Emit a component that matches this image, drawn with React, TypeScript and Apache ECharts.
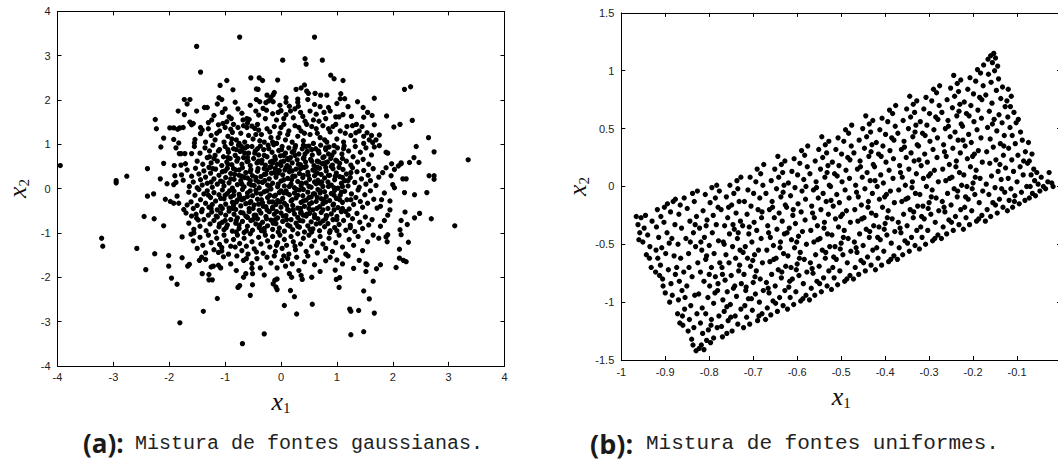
import React, { useEffect, useRef } from "react";
import * as echarts from "echarts";

// ---------- (a) Gaussian mixture: points, grouped by x2 band ----------
const gaussTop: number[][] = [
  [-0.74,3.42],[0.60,3.42],[-1.51,3.21],[0.03,2.90],[0.43,2.93],[0.45,2.81],[0.74,2.90],[-1.44,2.63],[0.89,2.56],[-0.54,2.50],[-0.39,2.50],
  [0.95,2.48],[1.11,2.44],[-0.33,2.44],[-0.06,2.45],[-0.97,2.44],[-1.09,2.33],[-0.86,2.23],[2.21,2.24],[2.32,2.30],[-0.44,2.25],[-0.41,2.24],
  [0.27,2.24],[0.36,2.27],[0.42,2.34],[0.46,2.20],[0.49,2.15],[-0.12,2.17],[-0.18,2.06],[-0.14,2.12],[-0.25,2.11],[0.61,2.15],[0.71,2.11],
  [0.82,2.11],[1.07,2.14],[1.06,2.03],[1.14,2.03],[1.67,2.04],[-1.73,2.01],[-1.63,2.01],[-1.11,2.05],[-1.06,2.01],[-0.44,2.01],[0.48,2.01],
  [0.09,2.05],[0.30,2.02],
];
const gaussBand15: number[][] = [
  [-1.68,1.91],[-0.38,1.96],[-0.14,1.96],[-0.22,1.98],[-0.27,1.94],[-0.32,1.81],[-0.26,1.77],[0.09,1.95],[-0.02,1.88],[0.30,1.95],[1.37,1.96],
  [1.47,1.83],[-1.37,1.83],[-1.32,1.83],[-1.14,1.91],[-1.00,1.80],[-0.77,1.80],[-1.84,1.75],[-1.51,1.75],[-1.73,1.67],[-0.15,1.69],[0.00,1.76],
  [0.09,1.67],[0.17,1.75],[0.25,1.80],[0.31,1.86],[0.22,1.60],[0.39,1.63],[0.77,1.72],[0.85,1.83],[0.88,1.75],[0.98,1.62],[1.04,1.62],[1.11,1.67],
  [1.26,1.63],[1.48,1.61],[1.63,1.65],[1.89,1.64],[2.35,1.54],[-2.25,1.56],[-1.63,1.50],[-1.57,1.47],[-1.30,1.49],[-0.93,1.62],[-0.89,1.58],
  [-0.61,1.58],[-0.57,1.56],[-0.97,1.51],[0.60,1.90],[0.70,1.85],[0.52,1.75],[-0.08,1.55],[0.05,1.58],[0.58,1.55],[0.68,1.52],[-0.45,1.75],
  [-0.40,1.66],[1.20,1.85],[-1.20,1.65],[-1.24,1.55],[-0.70,1.70],[0.43,1.52],[-0.05,1.72],[0.15,1.86],[0.35,1.72],[0.80,1.58],[-0.55,1.88],
  [-0.82,1.95],[1.00,1.92],[0.63,1.68],[-1.05,1.72],[-0.28,1.58],[1.55,1.72],[-0.68,1.55],
];
const gaussBand10: number[][] = [
  [-2.23,1.35],[-1.99,1.37],[-1.92,1.37],[-1.85,1.34],[-1.81,1.37],[-1.75,1.38],[-1.60,1.44],[-2.10,1.14],[-1.92,1.11],[-1.83,1.03],[-1.54,1.11],
  [-1.55,1.03],[-1.44,1.38],[-1.41,1.32],[-1.44,1.24],[-1.12,1.44],[-1.04,1.47],[-0.90,1.34],[-0.87,1.27],[-0.77,1.38],[-0.67,1.42],[-0.61,1.38],
  [-0.52,1.41],[-0.47,1.36],[-0.40,1.32],[2.13,1.45],[2.02,1.39],[1.67,1.44],[1.34,1.26],[1.48,1.18],[1.54,1.26],[1.58,1.10],[1.64,1.04],
  [1.70,1.10],[1.76,1.21],[2.64,1.15],
  [-1.25,1.20],[-1.18,1.10],[-1.10,1.30],[-1.02,1.05],[-0.95,1.18],[-0.85,1.45],[-0.80,1.10],[-0.72,1.25],[-0.65,1.05],[-0.58,1.20],[-0.50,1.12],
  [-0.42,1.45],[-0.35,1.22],[-0.30,1.05],[-0.25,1.35],[-0.18,1.15],[-0.12,1.40],[-0.08,1.02],[-0.02,1.25],[0.05,1.45],[0.08,1.10],[0.14,1.30],
  [0.20,1.05],[0.25,1.42],[0.30,1.18],[0.36,1.30],[0.40,1.08],[0.46,1.45],[0.52,1.22],[0.58,1.02],[0.63,1.35],[0.70,1.15],[0.75,1.42],[0.82,1.05],
  [0.88,1.28],[0.93,1.40],[1.00,1.12],[1.06,1.30],[1.12,1.05],[1.18,1.40],[1.25,1.20],[1.32,1.08],[1.40,1.30],[1.48,1.02],[1.62,1.20],[-1.35,1.05],
  [-0.60,1.48],[0.12,1.22],[0.65,1.25],[-0.20,1.28],[0.98,1.45],[1.35,1.45],[-0.88,1.12],[-0.38,1.08],[0.32,1.38],[0.78,1.10],[-0.05,1.15],
  [1.45,1.40],[-1.00,1.38],[-1.30,1.35],[-0.75,1.02],[-0.45,1.22],[0.00,1.38],[0.42,1.25],[0.85,1.35],[1.15,1.25],[-0.15,1.05],[0.55,1.40],
  [1.28,1.42],[-1.15,1.25],
];
const gaussBand05: number[][] = [
  [-2.15,0.94],[-1.88,0.92],[-1.82,0.79],[-1.79,0.79],[-1.72,0.79],[-1.60,0.79],[-2.10,0.57],[-1.91,0.52],[-1.79,0.53],[-1.71,0.56],
  [1.91,0.80],[2.42,0.95],[2.74,0.83],[2.38,0.70],[2.47,0.59],[2.30,0.59],[2.15,0.56],[2.10,0.51],[1.98,0.56],[2.15,0.58],[1.67,0.94],[1.76,0.97],
  [3.35,0.65],[1.88,0.82],
  [-1.55,0.95],[-1.50,0.62],[-1.45,0.80],[-1.40,0.55],[-1.36,0.92],[-1.32,0.70],[-1.28,0.85],[-1.25,0.58],[-1.22,0.98],[-1.18,0.75],[-1.14,0.62],
  [-1.10,0.88],[-1.06,0.52],[-1.03,0.72],[-1.00,0.95],[-0.97,0.60],[-0.94,0.82],[-0.91,0.68],[-0.88,0.54],[-0.85,0.90],[-0.82,0.75],[-0.79,0.62],
  [-0.76,0.98],[-0.73,0.84],[-0.70,0.55],[-0.67,0.70],[-0.64,0.92],[-0.61,0.61],[-0.58,0.80],[-0.55,0.52],[-0.52,0.95],[-0.49,0.68],[-0.46,0.85],
  [-0.43,0.58],[-0.40,0.76],[-0.37,0.96],[-0.34,0.64],[-0.31,0.88],[-0.28,0.53],[-0.25,0.72],[-0.22,0.90],[-0.19,0.60],[-0.16,0.82],[-0.13,0.99],
  [-0.10,0.66],[-0.07,0.55],[-0.04,0.86],[-0.01,0.74],[0.02,0.95],[0.05,0.62],[0.08,0.80],[0.11,0.52],[0.14,0.92],[0.17,0.70],[0.20,0.58],
  [0.23,0.85],[0.26,0.97],[0.29,0.65],[0.32,0.78],[0.35,0.54],[0.38,0.90],[0.41,0.70],[0.44,0.60],[0.47,0.84],[0.50,0.96],[0.53,0.66],[0.56,0.76],
  [0.59,0.52],[0.62,0.90],[0.65,0.62],[0.68,0.80],[0.71,0.98],[0.74,0.56],[0.77,0.72],[0.80,0.88],[0.83,0.60],[0.86,0.94],[0.89,0.68],[0.92,0.53],
  [0.95,0.82],[0.98,0.64],[1.01,0.92],[1.05,0.57],[1.09,0.78],[1.13,0.96],[1.17,0.62],[1.21,0.85],[1.25,0.53],[1.29,0.72],[1.33,0.95],[1.37,0.60],
  [1.42,0.82],[1.47,0.66],[1.52,0.92],[1.57,0.55],[1.62,0.76],[-0.95,0.70],[-0.60,0.70],[-0.30,0.75],[0.00,0.60],[0.25,0.75],[0.55,0.88],
  [0.85,0.78],[-1.20,0.68],[-0.80,0.88],[-0.15,0.58],[0.40,0.98],[1.10,0.68],[-0.42,0.90],[0.12,0.68],[0.68,0.60],[-0.70,0.88],[0.95,0.97],
];
const gaussBand00: number[][] = [
  [-3.95,0.52],[-2.76,0.28],[-2.39,0.45],[-2.95,0.18],[-2.95,0.13],[-2.16,0.22],[-2.04,0.11],[-1.90,0.29],[-1.78,0.31],[-1.75,0.19],[-1.92,0.09],
  [-1.88,0.14],[2.65,0.29],[2.74,0.29],[2.74,0.21],[2.18,0.22],[2.24,0.22],[2.00,0.09],[2.03,0.02],[1.88,0.47],[1.82,0.36],[1.97,0.29],[2.03,0.43],
  [-1.68,0.42],[-1.64,0.05],[-1.60,0.28],[-1.57,0.15],[-1.53,0.46],[-1.50,0.02],[-1.47,0.33],[-1.44,0.20],[-1.41,0.08],[-1.38,0.40],[-1.35,0.26],
  [-1.32,0.12],[-1.29,0.48],[-1.26,0.35],[-1.23,0.03],[-1.20,0.22],[-1.17,0.44],[-1.14,0.10],[-1.11,0.30],[-1.08,0.17],[-1.05,0.38],[-1.02,0.06],
  [-0.99,0.25],[-0.96,0.46],[-0.93,0.13],[-0.90,0.34],[-0.87,0.01],[-0.84,0.21],[-0.81,0.42],[-0.78,0.09],[-0.75,0.30],[-0.72,0.18],[-0.69,0.47],
  [-0.66,0.04],[-0.63,0.36],[-0.60,0.24],[-0.57,0.11],[-0.54,0.43],[-0.51,0.29],[-0.48,0.07],[-0.45,0.19],[-0.42,0.39],[-0.39,0.02],[-0.36,0.27],
  [-0.33,0.14],[-0.30,0.45],[-0.27,0.33],[-0.24,0.08],[-0.21,0.22],[-0.18,0.49],[-0.15,0.12],[-0.12,0.36],[-0.09,0.26],[-0.06,0.04],[-0.03,0.41],
  [0.00,0.17],[0.03,0.31],[0.06,0.06],[0.09,0.47],[0.12,0.23],[0.15,0.38],[0.18,0.10],[0.21,0.28],[0.24,0.02],[0.27,0.44],[0.30,0.16],[0.33,0.34],
  [0.36,0.07],[0.39,0.25],[0.42,0.48],[0.45,0.13],[0.48,0.37],[0.51,0.21],[0.54,0.03],[0.57,0.42],[0.60,0.29],[0.63,0.11],[0.66,0.19],[0.69,0.46],
  [0.72,0.32],[0.75,0.05],[0.78,0.24],[0.81,0.40],[0.84,0.15],[0.87,0.30],[0.90,0.08],[0.93,0.45],[0.96,0.20],[0.99,0.35],[1.02,0.01],[1.05,0.27],
  [1.08,0.12],[1.11,0.43],[1.14,0.18],[1.17,0.33],[1.20,0.06],[1.24,0.25],[1.28,0.47],[1.32,0.14],[1.36,0.38],[1.40,0.03],[1.44,0.22],[1.48,0.41],
  [1.52,0.10],[1.56,0.30],[1.60,0.18],[1.65,0.45],[1.70,0.07],[1.75,0.26],[-1.00,0.40],[-0.70,0.28],[-0.40,0.15],[-0.10,0.45],[0.20,0.40],
  [0.50,0.05],[0.80,0.48],[1.10,0.25],[-0.55,0.18],[-0.25,0.42],[0.05,0.20],[0.35,0.45],[0.65,0.35],[0.95,0.02],[-0.85,0.45],[-0.20,0.05],
  [0.40,0.30],[1.25,0.36],[-1.25,0.15],[0.70,0.12],
];
const gaussBandM05: number[][] = [
  [-2.39,-0.17],[-2.28,-0.12],[-2.07,-0.24],[-1.98,-0.29],[-1.92,-0.33],[-1.86,-0.17],[-1.83,-0.33],[-1.68,-0.37],[-1.74,-0.47],
  [2.61,-0.09],[2.39,-0.14],[2.21,-0.09],[1.95,-0.28],[1.95,-0.48],[1.80,-0.25],[1.78,-0.40],[1.85,-0.10],
  [-1.65,-0.08],[-1.61,-0.30],[-1.57,-0.45],[-1.54,-0.15],[-1.50,-0.38],[-1.47,-0.02],[-1.44,-0.25],[-1.41,-0.47],[-1.38,-0.12],[-1.35,-0.33],
  [-1.32,-0.05],[-1.29,-0.42],[-1.26,-0.20],[-1.23,-0.36],[-1.20,-0.09],[-1.17,-0.28],[-1.14,-0.48],[-1.11,-0.14],[-1.08,-0.40],[-1.05,-0.03],
  [-1.02,-0.23],[-0.99,-0.35],[-0.96,-0.11],[-0.93,-0.44],[-0.90,-0.19],[-0.87,-0.31],[-0.84,-0.06],[-0.81,-0.47],[-0.78,-0.26],[-0.75,-0.13],
  [-0.72,-0.39],[-0.69,-0.02],[-0.66,-0.22],[-0.63,-0.34],[-0.60,-0.10],[-0.57,-0.45],[-0.54,-0.29],[-0.51,-0.16],[-0.48,-0.37],[-0.45,-0.04],
  [-0.42,-0.24],[-0.39,-0.49],[-0.36,-0.12],[-0.33,-0.32],[-0.30,-0.07],[-0.27,-0.41],[-0.24,-0.20],[-0.21,-0.30],[-0.18,-0.01],[-0.15,-0.45],
  [-0.12,-0.17],[-0.09,-0.36],[-0.06,-0.27],[-0.03,-0.09],[0.00,-0.42],[0.03,-0.22],[0.06,-0.33],[0.09,-0.05],[0.12,-0.47],[0.15,-0.14],
  [0.18,-0.28],[0.21,-0.38],[0.24,-0.10],[0.27,-0.21],[0.30,-0.44],[0.33,-0.03],[0.36,-0.31],[0.39,-0.16],[0.42,-0.40],[0.45,-0.26],[0.48,-0.08],
  [0.51,-0.35],[0.54,-0.19],[0.57,-0.48],[0.60,-0.12],[0.63,-0.29],[0.66,-0.02],[0.69,-0.41],[0.72,-0.23],[0.75,-0.34],[0.78,-0.07],[0.81,-0.18],
  [0.84,-0.45],[0.87,-0.27],[0.90,-0.11],[0.93,-0.37],[0.96,-0.04],[0.99,-0.22],[1.02,-0.43],[1.06,-0.15],[1.10,-0.31],[1.14,-0.06],[1.18,-0.25],
  [1.22,-0.46],[1.26,-0.12],[1.30,-0.36],[1.34,-0.20],[1.38,-0.03],[1.42,-0.29],[1.46,-0.42],[1.50,-0.14],[1.55,-0.33],[1.60,-0.05],[1.66,-0.24],
  [1.72,-0.44],[-1.00,-0.15],[-0.70,-0.25],[-0.40,-0.35],[-0.10,-0.15],[0.20,-0.25],[0.50,-0.45],[0.80,-0.30],[1.10,-0.45],[-0.55,-0.05],
  [-0.25,-0.48],[0.05,-0.10],[0.35,-0.45],[0.65,-0.20],[0.95,-0.48],[-0.85,-0.38],[-0.15,-0.30],[0.40,-0.02],[1.25,-0.25],[-1.25,-0.45],[0.70,-0.10],
];
const gaussBandM10: number[][] = [
  [-2.45,-0.63],[-2.27,-0.68],[-2.10,-0.84],[-1.51,-0.67],[-1.48,-0.71],[2.39,-0.66],[2.48,-0.56],[2.26,-0.81],[2.22,-0.53],[2.15,-0.72],
  [2.13,-0.93],[2.69,-0.68],[3.11,-0.84],[1.91,-0.60],[1.85,-0.72],[1.78,-0.85],
  [-1.70,-0.55],[-1.65,-0.78],[-1.60,-0.62],[-1.56,-0.92],[-1.52,-0.58],[-1.45,-0.85],[-1.42,-0.52],[-1.38,-0.70],[-1.34,-0.95],[-1.30,-0.60],
  [-1.27,-0.80],[-1.24,-0.53],[-1.20,-0.72],[-1.17,-0.98],[-1.14,-0.64],[-1.11,-0.86],[-1.08,-0.55],[-1.05,-0.76],[-1.02,-0.93],[-0.99,-0.60],
  [-0.96,-0.82],[-0.93,-0.51],[-0.90,-0.70],[-0.87,-0.96],[-0.84,-0.58],[-0.81,-0.78],[-0.78,-0.66],[-0.75,-0.90],[-0.72,-0.54],[-0.69,-0.74],
  [-0.66,-0.99],[-0.63,-0.62],[-0.60,-0.85],[-0.57,-0.52],[-0.54,-0.72],[-0.51,-0.94],[-0.48,-0.60],[-0.45,-0.80],[-0.42,-0.68],[-0.39,-0.88],
  [-0.36,-0.55],[-0.33,-0.76],[-0.30,-0.97],[-0.27,-0.63],[-0.24,-0.84],[-0.21,-0.52],[-0.18,-0.71],[-0.15,-0.92],[-0.12,-0.58],[-0.09,-0.79],
  [-0.06,-0.66],[-0.03,-0.89],[0.00,-0.55],[0.03,-0.74],[0.06,-0.96],[0.09,-0.61],[0.12,-0.82],[0.15,-0.50],[0.18,-0.70],[0.21,-0.93],[0.24,-0.57],
  [0.27,-0.78],[0.30,-0.65],[0.33,-0.87],[0.36,-0.53],[0.39,-0.73],[0.42,-0.98],[0.45,-0.62],[0.48,-0.84],[0.51,-0.56],[0.54,-0.75],[0.57,-0.91],
  [0.60,-0.59],[0.63,-0.80],[0.66,-0.68],[0.69,-0.95],[0.72,-0.54],[0.75,-0.73],[0.78,-0.86],[0.81,-0.61],[0.84,-0.79],[0.87,-0.99],[0.90,-0.57],
  [0.93,-0.70],[0.96,-0.88],[1.00,-0.63],[1.04,-0.81],[1.08,-0.52],[1.12,-0.72],[1.16,-0.94],[1.20,-0.60],[1.24,-0.83],[1.28,-0.68],[1.32,-0.97],
  [1.36,-0.56],[1.41,-0.76],[1.46,-0.90],[1.51,-0.64],[1.57,-0.82],[1.63,-0.70],[-0.80,-0.98],[-0.35,-0.95],[0.10,-0.70],[0.55,-0.98],[1.00,-0.95],
  [-0.60,-0.65],[-0.05,-0.98],[0.40,-0.60],[-1.00,-0.72],[0.80,-0.68],
];
const gaussBandM15: number[][] = [
  [-3.21,-1.12],[-3.19,-1.30],[-2.58,-1.35],[-2.26,-1.47],[-1.77,-1.09],[-1.61,-1.03],[-1.56,-1.00],[-1.57,-1.18],[-1.12,-1.44],[-1.06,-1.41],
  [-0.82,-1.32],[-0.85,-1.15],[-1.06,-1.33],[-0.59,-1.48],[-0.44,-1.43],[2.12,-1.37],[2.28,-1.21],[2.15,-1.04],[1.91,-1.04],[1.88,-1.09],
  [1.90,-1.20],[1.75,-1.12],
  [-1.50,-1.35],[-1.45,-1.10],[-1.40,-1.28],[-1.35,-1.45],[-1.30,-1.05],[-1.25,-1.22],[-1.20,-1.38],[-1.15,-1.12],[-1.10,-1.26],[-1.02,-1.05],
  [-0.98,-1.18],[-0.94,-1.48],[-0.90,-1.30],[-0.78,-1.05],[-0.74,-1.24],[-0.70,-1.40],[-0.66,-1.12],[-0.62,-1.30],[-0.55,-1.02],[-0.52,-1.20],
  [-0.48,-1.36],[-0.40,-1.10],[-0.36,-1.25],[-0.32,-1.46],[-0.28,-1.05],[-0.24,-1.18],[-0.20,-1.32],[-0.15,-1.08],[-0.10,-1.42],[-0.06,-1.22],
  [-0.02,-1.05],[0.02,-1.35],[0.06,-1.15],[0.10,-1.28],[0.14,-1.48],[0.18,-1.08],[0.22,-1.20],[0.26,-1.38],[0.30,-1.02],[0.35,-1.25],[0.40,-1.12],
  [0.45,-1.42],[0.50,-1.05],[0.55,-1.30],[0.60,-1.18],[0.65,-1.45],[0.70,-1.08],[0.75,-1.25],[0.80,-1.35],[0.86,-1.12],[0.92,-1.42],[0.98,-1.22],
  [1.04,-1.05],[1.10,-1.32],[1.16,-1.48],[1.22,-1.15],[1.30,-1.28],[1.38,-1.08],[1.46,-1.40],[1.55,-1.20],[1.65,-1.05],[-0.08,-1.28],[0.25,-1.30],
];
const gaussBottom: number[][] = [
  [-2.42,-1.83],[-2.01,-1.51],[-2.01,-1.75],[-1.77,-1.56],[-1.67,-1.75],[-1.64,-1.71],[-1.46,-1.62],[-1.42,-1.55],[-1.41,-1.92],[-1.29,-1.94],
  [-1.25,-1.77],[-1.21,-1.75],[-1.12,-1.73],[-1.08,-1.79],[-1.03,-1.54],[-0.79,-1.52],[-0.67,-1.62],[-0.62,-1.58],[-0.51,-1.92],[-0.52,-1.80],
  [-0.52,-1.69],[-0.43,-1.58],[-0.37,-1.79],[-0.07,-1.79],[-0.63,-1.92],[0.80,-1.63],[0.70,-1.87],[0.36,-1.96],[1.00,-1.61],[0.97,-1.84],
  [1.52,-1.87],[1.52,-1.70],[1.54,-1.72],[1.78,-1.72],[1.71,-1.81],[2.06,-1.78],[2.12,-1.57],[2.19,-1.62],[2.24,-1.65],
  [-0.25,-1.55],[-0.18,-1.68],[-0.12,-1.52],[0.02,-1.62],[0.08,-1.75],[0.12,-1.58],[0.20,-1.70],[0.28,-1.55],[0.32,-1.85],[0.42,-1.65],
  [0.48,-1.52],[0.60,-1.72],[0.88,-1.55],[1.10,-1.70],[1.20,-1.52],[1.30,-1.80],[1.40,-1.62],[-0.90,-1.70],[-0.80,-1.85],[-0.30,-1.95],
  [0.15,-1.92],[-1.35,-1.60],[0.05,-1.52],
  [-1.96,-2.02],[-1.86,-2.16],[-1.29,-2.06],[-1.23,-2.06],[-0.77,-2.23],[-0.74,-2.19],[-0.67,-2.00],[-0.55,-2.41],[-0.51,-2.17],[-0.11,-2.07],
  [-0.14,-2.15],[-0.09,-2.22],[-0.07,-2.28],[-0.07,-2.04],[0.19,-2.00],[0.17,-2.30],[0.24,-2.44],[0.38,-2.05],[0.55,-2.00],[1.04,-2.23],
  [0.99,-2.05],[1.05,-2.01],[1.65,-2.09],[1.58,-2.49],[1.48,-2.31],[-1.14,-2.48],
  [-1.81,-3.03],[-1.39,-2.77],[-0.69,-3.50],[-0.30,-3.28],[0.06,-2.64],[0.28,-2.83],[0.56,-2.61],[1.23,-2.72],[1.25,-3.30],
  [1.25,-2.77],[1.39,-2.75],[1.48,-3.23],[1.67,-2.81],
];
const gaussCore: number[][] = [
  [-1.22,0.45],[-1.16,-0.62],[-1.12,0.85],[-1.08,-0.22],[-1.04,0.15],[-0.98,-0.88],[-0.95,0.55],[-0.92,-0.05],[-0.89,1.02],[-0.86,-0.45],
  [-0.83,0.32],[-0.80,-0.72],[-0.77,0.68],[-0.74,-0.18],[-0.71,0.95],[-0.68,-0.55],[-0.65,0.25],[-0.62,-0.95],[-0.59,0.62],[-0.56,-0.32],
  [-0.53,0.08],[-0.50,-0.70],[-0.47,0.80],[-0.44,-0.10],[-0.41,0.45],[-0.38,-0.82],[-0.35,0.58],[-0.32,-0.40],[-0.29,0.18],[-0.26,-0.68],
  [-0.23,0.98],[-0.20,-0.15],[-0.17,0.35],[-0.14,-0.78],[-0.11,0.72],[-0.08,-0.52],[-0.05,0.10],[-0.02,-0.30],[0.01,0.88],[0.04,-0.62],
  [0.07,0.42],[0.10,-0.10],[0.13,0.65],[0.16,-0.85],[0.19,0.20],[0.22,-0.48],[0.25,0.92],[0.28,-0.02],[0.31,0.55],[0.34,-0.72],[0.37,0.12],
  [0.40,-0.28],[0.43,0.78],[0.46,-0.58],[0.49,0.30],[0.52,-0.92],[0.55,0.62],[0.58,-0.12],[0.61,0.40],[0.64,-0.45],[0.67,0.85],[0.70,-0.78],
  [0.73,0.15],[0.76,-0.25],[0.79,0.58],[0.82,-0.62],[0.85,0.05],[0.88,-0.95],[0.91,0.75],[0.94,-0.35],[0.97,0.28],[1.00,-0.70],[1.04,0.48],
  [1.08,-0.08],[1.12,0.90],[1.16,-0.52],[1.20,0.18],[1.24,-0.88],[-1.30,-0.15],[-1.28,0.72],[-0.90,0.22],[-0.60,-0.18],[-0.30,0.32],
  [0.00,-0.05],[0.30,-0.15],[0.60,0.15],[0.90,0.50],[-0.75,0.42],[-0.45,-0.60],[-0.15,0.62],[0.15,0.05],[0.45,0.50],[0.75,-0.48],[1.05,-0.25],
  [-1.05,-0.45],[-0.65,0.80],[-0.35,-0.25],[-0.05,0.35],[0.25,0.28],[0.55,-0.32],[0.85,0.30],[-0.85,-0.15],[-0.55,0.38],[-0.25,-0.05],
  [0.05,0.75],[0.35,-0.55],[0.65,0.48],[0.95,-0.15],[-1.10,-0.80],[-0.70,0.10],[-0.40,0.62],[-0.10,-0.70],[0.20,0.82],[0.50,-0.20],
  [0.80,0.92],[1.10,0.05],[-0.95,0.88],[-0.50,-0.45],[-0.20,0.48],[0.10,-0.38],[0.40,0.68],[0.70,-0.05],[1.00,0.62],[-0.80,-0.30],
  [-0.30,-0.90],[0.30,-0.85],[0.60,-0.65],[-0.60,0.95],[0.00,0.52],[-0.15,-0.42],[0.15,0.48],[0.45,0.95],[-0.45,0.25],[0.75,0.70],[-0.75,-0.82],
];

// ---------- (b) Uniform mixture: points, grouped by x1 strip ----------
const unifLeftTip: number[][] = [
  [-0.966,-0.26],[-0.962,-0.33],[-0.960,-0.46],[-0.951,-0.48],[-0.943,-0.59],[-0.936,-0.62],[-0.932,-0.70],[-0.955,-0.27],[-0.948,-0.36],
  [-0.940,-0.42],[-0.930,-0.30],[-0.958,-0.40],[-0.935,-0.52],[-0.945,-0.25],
  [-0.922,-0.74],[-0.913,-0.77],[-0.905,-0.86],[-0.900,-0.92],[-0.918,-0.20],[-0.910,-0.26],[-0.895,-0.15],[-0.920,-0.35],[-0.903,-0.31],
  [-0.888,-0.22],[-0.915,-0.44],[-0.896,-0.40],[-0.882,-0.13],[-0.908,-0.53],[-0.891,-0.49],[-0.878,-0.33],[-0.917,-0.62],[-0.899,-0.58],
  [-0.885,-0.45],[-0.911,-0.68],[-0.893,-0.72],[-0.880,-0.60],[-0.906,-0.80],[-0.887,-0.84],[-0.877,-0.76],[-0.921,-0.55],[-0.902,-0.18],
  [-0.884,-0.94],[-0.890,-1.00],[-0.877,-0.11],
  [-0.872,-1.10],[-0.867,-1.18],[-0.860,-1.20],[-0.848,-1.25],[-0.840,-1.32],[-0.837,-1.37],[-0.830,-1.42],[-0.845,-1.15],[-0.856,-1.06],
  [-0.870,-0.98],[-0.835,-1.22],[-0.862,-0.90],[-0.842,-1.03],[-0.828,-1.10],[-0.868,-0.82],[-0.851,-0.86],[-0.833,-0.94],[-0.874,-0.70],
  [-0.858,-0.74],[-0.839,-0.78],[-0.826,-0.66],[-0.865,-0.62],[-0.847,-0.58],[-0.831,-0.52],[-0.871,-0.50],[-0.853,-0.45],[-0.836,-0.40],
  [-0.863,-0.36],[-0.844,-0.30],[-0.829,-0.26],[-0.869,-0.24],[-0.850,-0.19],[-0.834,-0.13],[-0.857,-0.10],[-0.838,-0.06],[-0.827,-0.04],
  [-0.866,-0.16],[-0.846,-0.70],[-0.832,-0.33],[-0.861,-1.12],[-0.843,-0.48],[-0.855,-0.96],
];
const unifStrip080: number[][] = [
  [-0.823,-1.40],[-0.818,-1.37],[-0.812,-1.41],[-0.806,-1.33],[-0.797,-1.35],[-0.790,-1.31],[-0.815,-1.27],[-0.802,-1.24],[-0.782,-1.22],
  [-0.820,-1.18],[-0.795,-1.15],[-0.808,-1.10],[-0.778,-1.12],[-0.816,-1.05],[-0.790,-1.01],[-0.803,-0.96],[-0.824,-0.93],[-0.781,-0.90],
  [-0.799,-0.86],[-0.812,-0.82],[-0.786,-0.78],[-0.820,-0.74],[-0.795,-0.70],[-0.776,-0.66],[-0.808,-0.63],[-0.789,-0.58],[-0.817,-0.55],
  [-0.800,-0.51],[-0.779,-0.47],[-0.811,-0.44],[-0.793,-0.40],[-0.822,-0.36],[-0.784,-0.33],[-0.805,-0.29],[-0.791,-0.25],[-0.814,-0.21],
  [-0.780,-0.18],[-0.798,-0.14],[-0.786,-0.10],[-0.809,-0.07],[-0.777,-0.04],[-0.794,-0.01],[-0.783,0.01],[-0.806,-0.60],[-0.787,-0.92],
  [-0.819,-0.48],[-0.796,-1.20],[-0.807,-0.34],[-0.780,-0.84],[-0.800,-0.76],
];
const unifStrip075: number[][] = [
  [-0.770,-1.30],[-0.760,-1.27],[-0.748,-1.25],[-0.772,-1.21],[-0.735,-1.19],[-0.757,-1.16],[-0.741,-1.12],[-0.766,-1.08],[-0.728,-1.06],
  [-0.752,-1.02],[-0.769,-0.98],[-0.738,-0.95],[-0.759,-0.91],[-0.745,-0.88],[-0.727,-0.84],[-0.764,-0.81],[-0.750,-0.77],[-0.733,-0.73],
  [-0.771,-0.70],[-0.755,-0.66],[-0.740,-0.62],[-0.762,-0.59],[-0.730,-0.55],[-0.747,-0.52],[-0.768,-0.48],[-0.736,-0.45],[-0.754,-0.41],
  [-0.743,-0.37],[-0.765,-0.34],[-0.729,-0.30],[-0.758,-0.27],[-0.739,-0.23],[-0.773,-0.20],[-0.749,-0.16],[-0.732,-0.13],[-0.761,-0.09],
  [-0.744,-0.06],[-0.735,-0.02],[-0.753,0.01],[-0.737,0.05],[-0.728,0.08],[-0.766,-0.50],[-0.742,-0.86],[-0.756,-0.18],[-0.731,-0.68],
  [-0.760,-1.04],[-0.746,-0.33],[-0.770,-0.76],[-0.734,-0.40],[-0.751,-1.13],
];
const unifStrip070: number[][] = [
  [-0.722,-1.22],[-0.708,-1.19],[-0.690,-1.16],[-0.715,-1.13],[-0.680,-1.10],[-0.702,-1.07],[-0.719,-1.03],[-0.686,-1.00],[-0.711,-0.97],
  [-0.695,-0.93],[-0.677,-0.90],[-0.716,-0.87],[-0.700,-0.83],[-0.684,-0.80],[-0.721,-0.76],[-0.693,-0.73],[-0.706,-0.69],[-0.679,-0.66],
  [-0.713,-0.62],[-0.697,-0.59],[-0.688,-0.55],[-0.718,-0.52],[-0.703,-0.48],[-0.682,-0.45],[-0.710,-0.41],[-0.692,-0.38],[-0.724,-0.34],
  [-0.698,-0.31],[-0.681,-0.27],[-0.714,-0.24],[-0.689,-0.20],[-0.705,-0.17],[-0.720,-0.13],[-0.685,-0.10],[-0.699,-0.06],[-0.712,-0.03],
  [-0.678,0.01],[-0.694,0.04],[-0.707,0.08],[-0.683,0.11],[-0.691,0.15],[-0.676,0.19],[-0.717,-0.90],[-0.701,-0.64],[-0.687,-1.12],
  [-0.709,-0.35],[-0.696,-0.78],[-0.723,-0.57],[-0.680,-0.22],[-0.704,-0.97],
];
const unifStrip065: number[][] = [
  [-0.672,-1.15],[-0.660,-1.11],[-0.645,-1.08],[-0.668,-1.05],[-0.632,-1.03],[-0.655,-0.99],[-0.640,-0.96],[-0.664,-0.92],[-0.628,-0.90],
  [-0.650,-0.86],[-0.670,-0.83],[-0.636,-0.79],[-0.658,-0.76],[-0.643,-0.72],[-0.626,-0.69],[-0.662,-0.65],[-0.648,-0.62],[-0.631,-0.58],
  [-0.669,-0.55],[-0.654,-0.51],[-0.638,-0.48],[-0.661,-0.44],[-0.629,-0.41],[-0.646,-0.37],[-0.667,-0.34],[-0.634,-0.30],[-0.652,-0.27],
  [-0.641,-0.23],[-0.663,-0.20],[-0.627,-0.16],[-0.657,-0.13],[-0.637,-0.09],[-0.671,-0.06],[-0.647,-0.02],[-0.630,0.01],[-0.659,0.05],
  [-0.642,0.08],[-0.633,0.12],[-0.651,0.15],[-0.636,0.19],[-0.628,0.22],[-0.644,0.26],[-0.666,-0.88],[-0.639,-0.53],[-0.656,-0.18],
  [-0.635,-0.74],[-0.649,-1.01],[-0.665,-0.40],[-0.632,-0.05],[-0.653,-0.63],
];
const unifStrip060: number[][] = [
  [-0.622,-1.06],[-0.608,-1.02],[-0.592,-0.99],[-0.616,-0.96],[-0.580,-0.94],[-0.603,-0.91],[-0.619,-0.87],[-0.586,-0.84],[-0.611,-0.80],
  [-0.596,-0.77],[-0.578,-0.74],[-0.614,-0.70],[-0.600,-0.67],[-0.584,-0.63],[-0.621,-0.60],[-0.593,-0.57],[-0.606,-0.53],[-0.579,-0.50],
  [-0.613,-0.46],[-0.597,-0.43],[-0.588,-0.39],[-0.618,-0.36],[-0.604,-0.32],[-0.582,-0.29],[-0.610,-0.25],[-0.591,-0.22],[-0.624,-0.18],
  [-0.598,-0.15],[-0.581,-0.11],[-0.615,-0.08],[-0.589,-0.04],[-0.605,-0.01],[-0.620,0.03],[-0.585,0.06],[-0.599,0.10],[-0.612,0.13],
  [-0.577,0.17],[-0.594,0.20],[-0.607,0.24],[-0.583,0.27],[-0.590,0.31],[-0.576,0.35],[-0.617,-0.82],[-0.601,-0.48],[-0.587,-0.97],
  [-0.609,-0.20],[-0.595,-0.62],[-0.623,-0.40],[-0.580,0.00],[-0.602,-0.72],
];
const unifStrip055: number[][] = [
  [-0.572,-0.98],[-0.560,-0.94],[-0.545,-0.91],[-0.568,-0.88],[-0.532,-0.86],[-0.555,-0.82],[-0.540,-0.79],[-0.564,-0.75],[-0.528,-0.73],
  [-0.550,-0.69],[-0.570,-0.66],[-0.536,-0.62],[-0.558,-0.59],[-0.543,-0.55],[-0.526,-0.52],[-0.562,-0.48],[-0.548,-0.45],[-0.531,-0.41],
  [-0.569,-0.38],[-0.554,-0.34],[-0.538,-0.31],[-0.561,-0.27],[-0.529,-0.24],[-0.546,-0.20],[-0.567,-0.17],[-0.534,-0.13],[-0.552,-0.10],
  [-0.541,-0.06],[-0.563,-0.03],[-0.527,0.01],[-0.557,0.04],[-0.537,0.08],[-0.571,0.11],[-0.547,0.15],[-0.530,0.18],[-0.559,0.22],
  [-0.542,0.25],[-0.533,0.29],[-0.551,0.32],[-0.536,0.36],[-0.528,0.39],[-0.544,0.43],[-0.566,-0.71],[-0.539,-0.36],[-0.556,-0.01],
  [-0.535,-0.57],[-0.549,-0.84],[-0.565,-0.23],[-0.532,0.12],[-0.553,-0.46],
];
const unifStrip050: number[][] = [
  [-0.522,-0.89],[-0.508,-0.85],[-0.492,-0.82],[-0.516,-0.79],[-0.480,-0.77],[-0.503,-0.73],[-0.519,-0.70],[-0.486,-0.66],[-0.511,-0.63],
  [-0.496,-0.59],[-0.478,-0.56],[-0.514,-0.52],[-0.500,-0.49],[-0.484,-0.45],[-0.521,-0.42],[-0.493,-0.38],[-0.506,-0.35],[-0.479,-0.31],
  [-0.513,-0.28],[-0.497,-0.24],[-0.488,-0.21],[-0.518,-0.17],[-0.504,-0.14],[-0.482,-0.10],[-0.510,-0.07],[-0.491,-0.03],[-0.524,0.00],
  [-0.498,0.04],[-0.481,0.07],[-0.515,0.11],[-0.489,0.14],[-0.505,0.18],[-0.520,0.21],[-0.485,0.25],[-0.499,0.28],[-0.512,0.32],
  [-0.477,0.35],[-0.494,0.39],[-0.507,0.42],[-0.483,0.46],[-0.490,0.49],[-0.476,0.53],[-0.517,-0.61],[-0.501,-0.26],[-0.487,-0.80],
  [-0.509,0.09],[-0.495,-0.44],[-0.523,-0.12],[-0.480,0.23],[-0.502,-0.54],
];
const unifStrip045: number[][] = [
  [-0.472,-0.80],[-0.460,-0.76],[-0.445,-0.73],[-0.468,-0.70],[-0.432,-0.68],[-0.455,-0.64],[-0.440,-0.61],[-0.464,-0.57],[-0.428,-0.55],
  [-0.450,-0.51],[-0.470,-0.48],[-0.436,-0.44],[-0.458,-0.41],[-0.443,-0.37],[-0.426,-0.34],[-0.462,-0.30],[-0.448,-0.27],[-0.431,-0.23],
  [-0.469,-0.20],[-0.454,-0.16],[-0.438,-0.13],[-0.461,-0.09],[-0.429,-0.06],[-0.446,-0.02],[-0.467,0.01],[-0.434,0.05],[-0.452,0.08],
  [-0.441,0.12],[-0.463,0.15],[-0.427,0.19],[-0.457,0.22],[-0.437,0.26],[-0.471,0.29],[-0.447,0.33],[-0.430,0.36],[-0.459,0.40],
  [-0.442,0.43],[-0.433,0.47],[-0.451,0.50],[-0.436,0.54],[-0.428,0.57],[-0.444,0.61],[-0.466,-0.53],[-0.439,-0.18],[-0.456,0.17],
  [-0.435,-0.39],[-0.449,-0.66],[-0.465,-0.05],[-0.432,0.30],[-0.453,-0.28],
];
const unifStrip040: number[][] = [
  [-0.422,-0.72],[-0.408,-0.68],[-0.392,-0.65],[-0.416,-0.62],[-0.380,-0.60],[-0.403,-0.56],[-0.419,-0.53],[-0.386,-0.49],[-0.411,-0.46],
  [-0.396,-0.42],[-0.378,-0.39],[-0.414,-0.35],[-0.400,-0.32],[-0.384,-0.28],[-0.421,-0.25],[-0.393,-0.21],[-0.406,-0.18],[-0.379,-0.14],
  [-0.413,-0.11],[-0.397,-0.07],[-0.388,-0.04],[-0.418,0.00],[-0.404,0.03],[-0.382,0.07],[-0.410,0.10],[-0.391,0.14],[-0.424,0.17],
  [-0.398,0.21],[-0.381,0.24],[-0.415,0.28],[-0.389,0.31],[-0.405,0.35],[-0.420,0.38],[-0.385,0.42],[-0.399,0.45],[-0.412,0.49],
  [-0.377,0.52],[-0.394,0.56],[-0.407,0.59],[-0.383,0.63],[-0.390,0.66],[-0.376,0.70],[-0.417,-0.44],[-0.401,-0.09],[-0.387,-0.63],
  [-0.409,0.26],[-0.395,-0.27],[-0.423,0.05],[-0.380,0.40],[-0.402,-0.37],
];
const unifStrip035: number[][] = [
  [-0.372,-0.63],[-0.360,-0.59],[-0.345,-0.56],[-0.368,-0.53],[-0.332,-0.51],[-0.355,-0.47],[-0.340,-0.44],[-0.364,-0.40],[-0.328,-0.38],
  [-0.350,-0.34],[-0.370,-0.31],[-0.336,-0.27],[-0.358,-0.24],[-0.343,-0.20],[-0.326,-0.17],[-0.362,-0.13],[-0.348,-0.10],[-0.331,-0.06],
  [-0.369,-0.03],[-0.354,0.01],[-0.338,0.04],[-0.361,0.08],[-0.329,0.11],[-0.346,0.15],[-0.367,0.18],[-0.334,0.22],[-0.352,0.25],
  [-0.341,0.29],[-0.363,0.32],[-0.327,0.36],[-0.357,0.39],[-0.337,0.43],[-0.371,0.46],[-0.347,0.50],[-0.330,0.53],[-0.359,0.57],
  [-0.342,0.60],[-0.333,0.64],[-0.351,0.67],[-0.336,0.71],[-0.328,0.74],[-0.344,0.78],[-0.366,-0.36],[-0.339,-0.01],[-0.356,0.34],
  [-0.335,-0.22],[-0.349,-0.49],[-0.365,0.12],[-0.332,0.47],[-0.353,-0.11],
];
const unifStrip030: number[][] = [
  [-0.322,-0.54],[-0.308,-0.50],[-0.292,-0.47],[-0.316,-0.44],[-0.280,-0.42],[-0.303,-0.38],[-0.319,-0.35],[-0.286,-0.31],[-0.311,-0.28],
  [-0.296,-0.24],[-0.278,-0.21],[-0.314,-0.17],[-0.300,-0.14],[-0.284,-0.10],[-0.321,-0.07],[-0.293,-0.03],[-0.306,0.00],[-0.279,0.04],
  [-0.313,0.07],[-0.297,0.11],[-0.288,0.14],[-0.318,0.18],[-0.304,0.21],[-0.282,0.25],[-0.310,0.28],[-0.291,0.32],[-0.324,0.35],
  [-0.298,0.39],[-0.281,0.42],[-0.315,0.46],[-0.289,0.49],[-0.305,0.53],[-0.320,0.56],[-0.285,0.60],[-0.299,0.63],[-0.312,0.67],
  [-0.277,0.70],[-0.294,0.74],[-0.307,0.77],[-0.283,0.81],[-0.290,0.84],[-0.276,0.87],[-0.317,-0.26],[-0.301,0.09],[-0.287,-0.45],
  [-0.309,0.44],[-0.295,-0.09],[-0.323,0.23],[-0.280,0.58],[-0.302,-0.19],
];
const unifStrip025: number[][] = [
  [-0.272,-0.45],[-0.260,-0.41],[-0.245,-0.38],[-0.268,-0.35],[-0.232,-0.33],[-0.255,-0.29],[-0.240,-0.26],[-0.264,-0.22],[-0.228,-0.20],
  [-0.250,-0.16],[-0.270,-0.13],[-0.236,-0.09],[-0.258,-0.06],[-0.243,-0.02],[-0.226,0.01],[-0.262,0.05],[-0.248,0.08],[-0.231,0.12],
  [-0.269,0.15],[-0.254,0.19],[-0.238,0.22],[-0.261,0.26],[-0.229,0.29],[-0.246,0.33],[-0.267,0.36],[-0.234,0.40],[-0.252,0.43],
  [-0.241,0.47],[-0.263,0.50],[-0.227,0.54],[-0.257,0.57],[-0.237,0.61],[-0.271,0.64],[-0.247,0.68],[-0.230,0.71],[-0.259,0.75],
  [-0.242,0.78],[-0.233,0.82],[-0.251,0.85],[-0.236,0.89],[-0.228,0.92],[-0.244,0.96],[-0.266,-0.18],[-0.239,0.17],[-0.256,0.52],
  [-0.235,-0.04],[-0.249,-0.31],[-0.265,0.30],[-0.232,0.65],[-0.253,0.07],
];
const unifStrip020: number[][] = [
  [-0.222,-0.37],[-0.208,-0.33],[-0.192,-0.30],[-0.216,-0.27],[-0.180,-0.25],[-0.203,-0.21],[-0.219,-0.18],[-0.186,-0.14],[-0.211,-0.11],
  [-0.196,-0.07],[-0.178,-0.04],[-0.214,0.00],[-0.200,0.03],[-0.184,0.07],[-0.221,0.10],[-0.193,0.14],[-0.206,0.17],[-0.179,0.21],
  [-0.213,0.24],[-0.197,0.28],[-0.188,0.31],[-0.218,0.35],[-0.204,0.38],[-0.182,0.42],[-0.210,0.45],[-0.191,0.49],[-0.224,0.52],
  [-0.198,0.56],[-0.181,0.59],[-0.215,0.63],[-0.189,0.66],[-0.205,0.70],[-0.220,0.73],[-0.185,0.77],[-0.199,0.80],[-0.212,0.84],
  [-0.177,0.87],[-0.194,0.91],[-0.207,0.94],[-0.183,0.98],[-0.190,1.01],[-0.176,1.05],[-0.217,-0.09],[-0.201,0.26],[-0.187,-0.28],
  [-0.209,0.61],[-0.195,0.08],[-0.223,0.40],[-0.180,0.75],[-0.202,-0.02],
];
const unifStrip015: number[][] = [
  [-0.172,-0.30],[-0.160,-0.26],[-0.145,-0.23],[-0.168,-0.20],[-0.132,-0.18],[-0.155,-0.14],[-0.140,-0.11],[-0.164,-0.07],[-0.128,-0.05],
  [-0.150,-0.01],[-0.170,0.02],[-0.136,0.06],[-0.158,0.09],[-0.143,0.13],[-0.126,0.16],[-0.162,0.20],[-0.148,0.23],[-0.131,0.27],
  [-0.169,0.30],[-0.154,0.34],[-0.138,0.37],[-0.161,0.41],[-0.129,0.44],[-0.146,0.48],[-0.167,0.51],[-0.134,0.55],[-0.152,0.58],
  [-0.141,0.62],[-0.163,0.65],[-0.127,0.69],[-0.157,0.72],[-0.137,0.76],[-0.171,0.79],[-0.147,0.83],[-0.133,0.86],[-0.159,0.90],
  [-0.142,0.93],[-0.165,0.97],[-0.151,1.00],[-0.144,1.04],[-0.156,1.07],[-0.149,1.11],[-0.160,1.13],[-0.153,1.15],[-0.166,1.10],
  [-0.139,0.19],[-0.156,0.54],[-0.135,-0.02],[-0.149,-0.16],[-0.130,0.35],
];
const unifRightTip: number[][] = [
  [-0.122,-0.21],[-0.110,-0.18],[-0.095,-0.15],[-0.118,-0.12],[-0.082,-0.12],[-0.105,-0.08],[-0.090,-0.05],[-0.114,-0.02],[-0.078,0.00],
  [-0.100,0.04],[-0.120,0.07],[-0.086,0.10],[-0.108,0.13],[-0.093,0.17],[-0.076,0.20],[-0.112,0.23],[-0.098,0.27],[-0.081,0.30],
  [-0.119,0.33],[-0.104,0.37],[-0.088,0.40],[-0.111,0.44],[-0.092,0.47],[-0.116,0.51],[-0.102,0.55],[-0.121,0.60],[-0.107,0.64],
  [-0.115,0.69],[-0.123,0.74],[-0.113,0.78],[-0.120,0.84],[-0.097,0.58],[-0.085,0.22],[-0.106,-0.13],
  [-0.072,-0.10],[-0.065,-0.06],[-0.058,-0.08],[-0.048,-0.04],[-0.070,0.00],[-0.060,0.05],[-0.052,0.02],[-0.068,0.10],[-0.062,0.15],
  [-0.055,0.12],[-0.072,0.22],[-0.066,0.28],[-0.074,0.38],[-0.040,0.00],[-0.035,-0.02],[-0.045,0.08],[-0.030,0.04],
  [-0.027,0.12],[-0.021,0.03],[-0.018,0.00],
];

const gaussianPoints = [
  ...gaussTop, ...gaussBand15, ...gaussBand10, ...gaussBand05, ...gaussBand00,
  ...gaussBandM05, ...gaussBandM10, ...gaussBandM15, ...gaussBottom, ...gaussCore,
];
const uniformPoints = [
  ...unifLeftTip, ...unifStrip080, ...unifStrip075, ...unifStrip070, ...unifStrip065, ...unifStrip060,
  ...unifStrip055, ...unifStrip050, ...unifStrip045, ...unifStrip040, ...unifStrip035, ...unifStrip030,
  ...unifStrip025, ...unifStrip020, ...unifStrip015, ...unifRightTip,
];

// axis ranges (tick labels follow from min / max / interval)
const leftX = { min: -4, max: 4, interval: 1 };
const leftY = { min: -4, max: 4, interval: 1 };
const rightX = { min: -1, max: 0, interval: 0.1 };
const rightY = { min: -1.5, max: 1.5, interval: 0.5 };

const axisNameX = "{v|x}{s|1}";
const axisNameY = "{v|x}{s|2}";
const captionA = { tag: "(a):", text: "Mistura de fontes gaussianas." };
const captionB = { tag: "(b):", text: "Mistura de fontes uniformes." };

export default function App() {
  const ref = useRef<HTMLDivElement>(null);

  useEffect(() => {
    if (!ref.current) return;
    const chart = echarts.init(ref.current, null, { renderer: "svg" });

    const line = { show: true, onZero: false, lineStyle: { color: "#000", width: 1 } };
    const tick = { show: true, inside: true, length: 4, lineStyle: { color: "#000", width: 1 } };
    const label = { color: "#222", fontSize: 11, fontFamily: "'Liberation Sans', Arial, sans-serif" };
    const nameStyle = {
      rich: {
        v: { fontFamily: "'Liberation Serif', serif", fontStyle: "italic", fontSize: 26, color: "#111" },
        s: { fontFamily: "'Liberation Serif', serif", fontSize: 15, color: "#111", padding: [13, 0, 0, 0] },
      },
    };

    const mainX = (grid: number, r: any, extra: any = {}) => ({
      type: "value", gridIndex: grid, position: "bottom", ...r,
      axisLine: line, axisTick: tick, splitLine: { show: false },
      axisLabel: { ...label, margin: 6, ...extra },
      name: axisNameX, nameLocation: "middle", nameGap: 22, nameTextStyle: nameStyle,
    });
    const mainY = (grid: number, r: any) => ({
      type: "value", gridIndex: grid, position: "left", ...r,
      axisLine: line, axisTick: tick, splitLine: { show: false },
      axisLabel: { ...label, margin: 7 },
      name: axisNameY, nameLocation: "middle", nameRotate: 90, nameGap: 26, nameTextStyle: nameStyle,
    });
    const sideX = (grid: number, r: any) => ({
      type: "value", gridIndex: grid, position: "top", ...r,
      axisLine: line, axisTick: tick, splitLine: { show: false }, axisLabel: { show: false },
    });
    const sideY = (grid: number, r: any) => ({
      type: "value", gridIndex: grid, position: "right", ...r,
      axisLine: line, axisTick: tick, splitLine: { show: false }, axisLabel: { show: false },
    });

    const fmt1 = (v: number) => {
      const r = Math.round(v * 10) / 10;
      return r === 0 ? "0" : String(r);
    };

    const tagFont = (px: number) => `bold ${px}px 'Open Sans', 'DejaVu Sans', sans-serif`;
    const textFont = (px: number) => `${px}px 'Liberation Mono', 'DejaVu Sans Mono', monospace`;

    chart.setOption({
      animation: false,
      backgroundColor: "#fff",
      grid: [
        { left: 57.5, top: 11.4, width: 447, height: 354.4, containLabel: false, outerBoundsMode: "none" },
        { left: 621.3, top: 12.9, width: 439.7, height: 347.1, containLabel: false, outerBoundsMode: "none" },
      ],
      xAxis: [
        mainX(0, leftX), sideX(0, leftX),
        mainX(1, rightX, { formatter: fmt1, showMaxLabel: false }), sideX(1, rightX),
      ],
      yAxis: [mainY(0, leftY), sideY(0, leftY), mainY(1, rightY), sideY(1, rightY)],
      series: [
        {
          type: "scatter", xAxisIndex: 0, yAxisIndex: 0, data: gaussianPoints,
          symbol: "circle", symbolSize: 5.3, itemStyle: { color: "#000", opacity: 1 }, silent: true,
        },
        {
          type: "scatter", xAxisIndex: 2, yAxisIndex: 2, data: uniformPoints,
          symbol: "circle", symbolSize: 5.3, itemStyle: { color: "#000", opacity: 1 }, silent: true,
        },
      ],
      graphic: [
        { type: "text", x: 83, y: 443, style: { text: captionA.tag, font: tagFont(26), fill: "#1a1a1a", verticalAlign: "middle" } },
        { type: "text", x: 135, y: 443, style: { text: captionA.text, font: textFont(20), fill: "#222", verticalAlign: "middle" } },
        { type: "text", x: 590, y: 443, style: { text: captionB.tag, font: tagFont(27), fill: "#1a1a1a", verticalAlign: "middle" } },
        { type: "text", x: 646, y: 443, style: { text: captionB.text, font: textFont(21), fill: "#222", verticalAlign: "middle" } },
      ],
    });

    return () => chart.dispose();
  }, []);

  return (
    <div
      ref={ref}
      style={{ position: "fixed", left: 0, top: 0, width: 1058, height: 467, background: "#fff" }}
    />
  );
}
